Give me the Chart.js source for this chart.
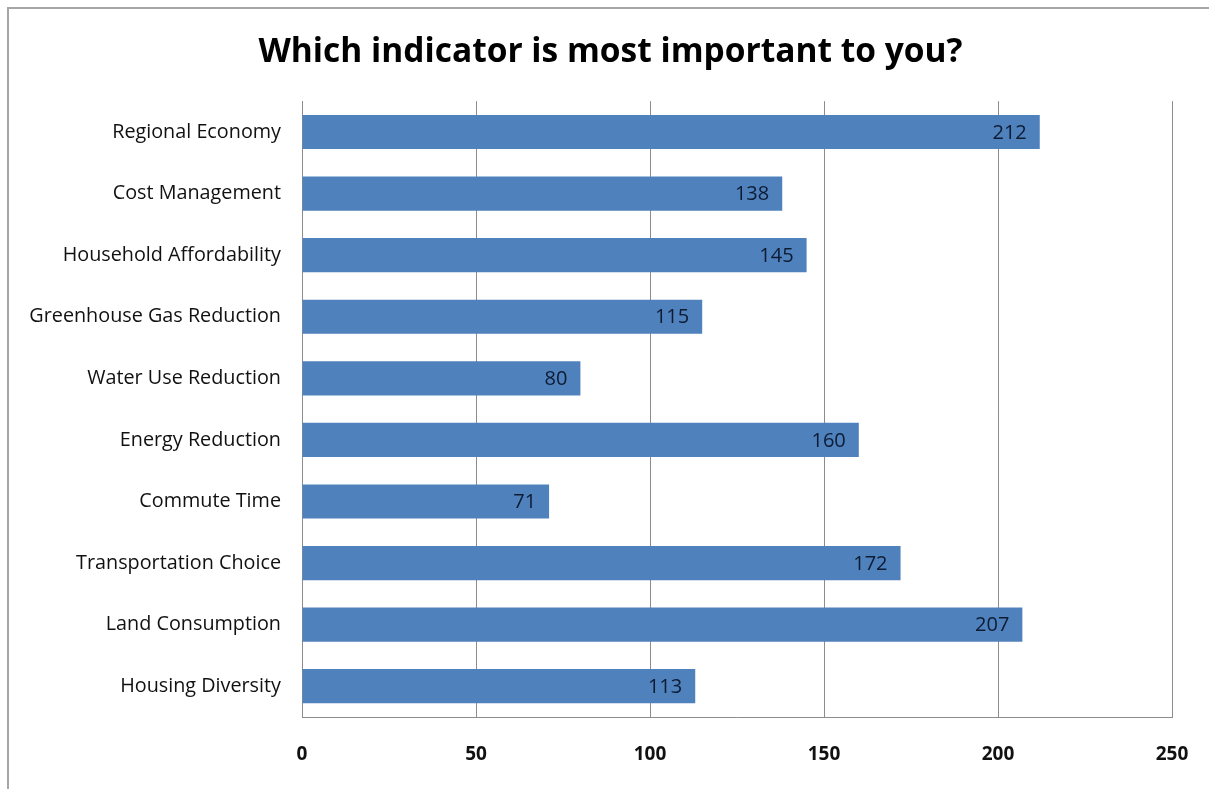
<!DOCTYPE html>
<html>
<head>
<meta charset="utf-8">
<script src="https://cdn.jsdelivr.net/npm/chart.js@4.4.1/dist/chart.umd.min.js"></script>
<style>
  html, body { margin: 0; padding: 0; background: #fff; }
  #wrap { width: 1209px; height: 789px; position: relative; }
</style>
</head>
<body>
<div id="wrap"><canvas id="myChart"></canvas></div>
<script>
const categories = [
  'Regional Economy',
  'Cost Management',
  'Household Affordability',
  'Greenhouse Gas Reduction',
  'Water Use Reduction',
  'Energy Reduction',
  'Commute Time',
  'Transportation Choice',
  'Land Consumption',
  'Housing Diversity',
];
const votes = [212, 138, 145, 115, 80, 160, 71, 172, 207, 113];
const xTicks = [0, 50, 100, 150, 200, 250];

const FONT = '"Open Sans", Lato, sans-serif';

// white background + the frame lines on the left and top
const framePlugin = {
  id: 'frame',
  beforeDraw(chart) {
    const { ctx, width, height } = chart;
    ctx.save();
    ctx.fillStyle = '#fff';
    ctx.fillRect(0, 0, width, height);
    ctx.strokeStyle = '#a6a6a6';
    ctx.lineWidth = 2;
    ctx.beginPath();
    ctx.moveTo(8, height);
    ctx.lineTo(8, 8);
    ctx.lineTo(width, 8);
    ctx.stroke();
    ctx.restore();
  },
};

// value labels at the inside end of each bar
const valueLabels = {
  id: 'valueLabels',
  afterDatasetsDraw(chart) {
    const { ctx } = chart;
    const meta = chart.getDatasetMeta(0);
    ctx.save();
    ctx.font = '20px ' + FONT;
    ctx.fillStyle = '#0d1b33';
    ctx.textAlign = 'right';
    ctx.textBaseline = 'middle';
    meta.data.forEach((bar, i) => {
      ctx.fillText(String(chart.data.datasets[0].data[i]), bar.x - 13, bar.y + 1);
    });
    ctx.restore();
  },
};

const myChartRef = document.getElementById('myChart').getContext('2d');
new Chart(myChartRef, {
  type: 'bar',
  data: {
    labels: categories,
    datasets: [{
      label: 'Votes',
      data: votes,
      backgroundColor: '#4f81bd',
      borderWidth: 0,
      categoryPercentage: 0.555,
      barPercentage: 1,
    }],
  },
  options: {
    indexAxis: 'y',
    animation: false,
    responsive: true,
    maintainAspectRatio: false,
    layout: { padding: { left: 12, right: 0, top: 0, bottom: 0 } },
    plugins: {
      legend: { display: false },
      tooltip: { enabled: false },
      title: {
        display: true,
        text: 'Which indicator is most important to you?',
        color: '#000',
        font: { family: FONT, size: 33.5, weight: 'bold' },
        padding: { top: 32, bottom: 29 },
      },
    },
    scales: {
      x: {
        min: 0,
        max: 250,
        afterBuildTicks(scale) {
          scale.ticks = xTicks.map((v) => ({ value: v }));
        },
        afterFit(scale) { scale.height = 72; },
        // invisible tick marks push the labels down without widening the side padding
        grid: {
          color: '#8c8c8c',
          lineWidth: 1,
          drawTicks: true,
          tickLength: 26,
          tickColor: 'rgba(0,0,0,0)',
        },
        border: { display: true, color: '#8c8c8c', width: 1 },
        ticks: {
          color: '#111',
          padding: 0,
          font: { family: FONT, size: 19, weight: 'bold' },
        },
      },
      y: {
        afterFit(scale) { scale.width = 290; },
        grid: { display: false, drawTicks: false },
        border: { display: true, color: '#8c8c8c', width: 1 },
        ticks: {
          color: '#111',
          padding: 21,
          font: { family: FONT, size: 19.8 },
        },
      },
      // empty spacer on the right so the plot stops at 250 where the picture does
      spacer: {
        type: 'linear',
        position: 'right',
        display: true,
        afterFit(scale) { scale.width = 37; },
        grid: { display: false, drawTicks: false },
        border: { display: false },
        ticks: { display: false },
      },
    },
  },
  plugins: [framePlugin, valueLabels],
});
</script>
</body>
</html>
